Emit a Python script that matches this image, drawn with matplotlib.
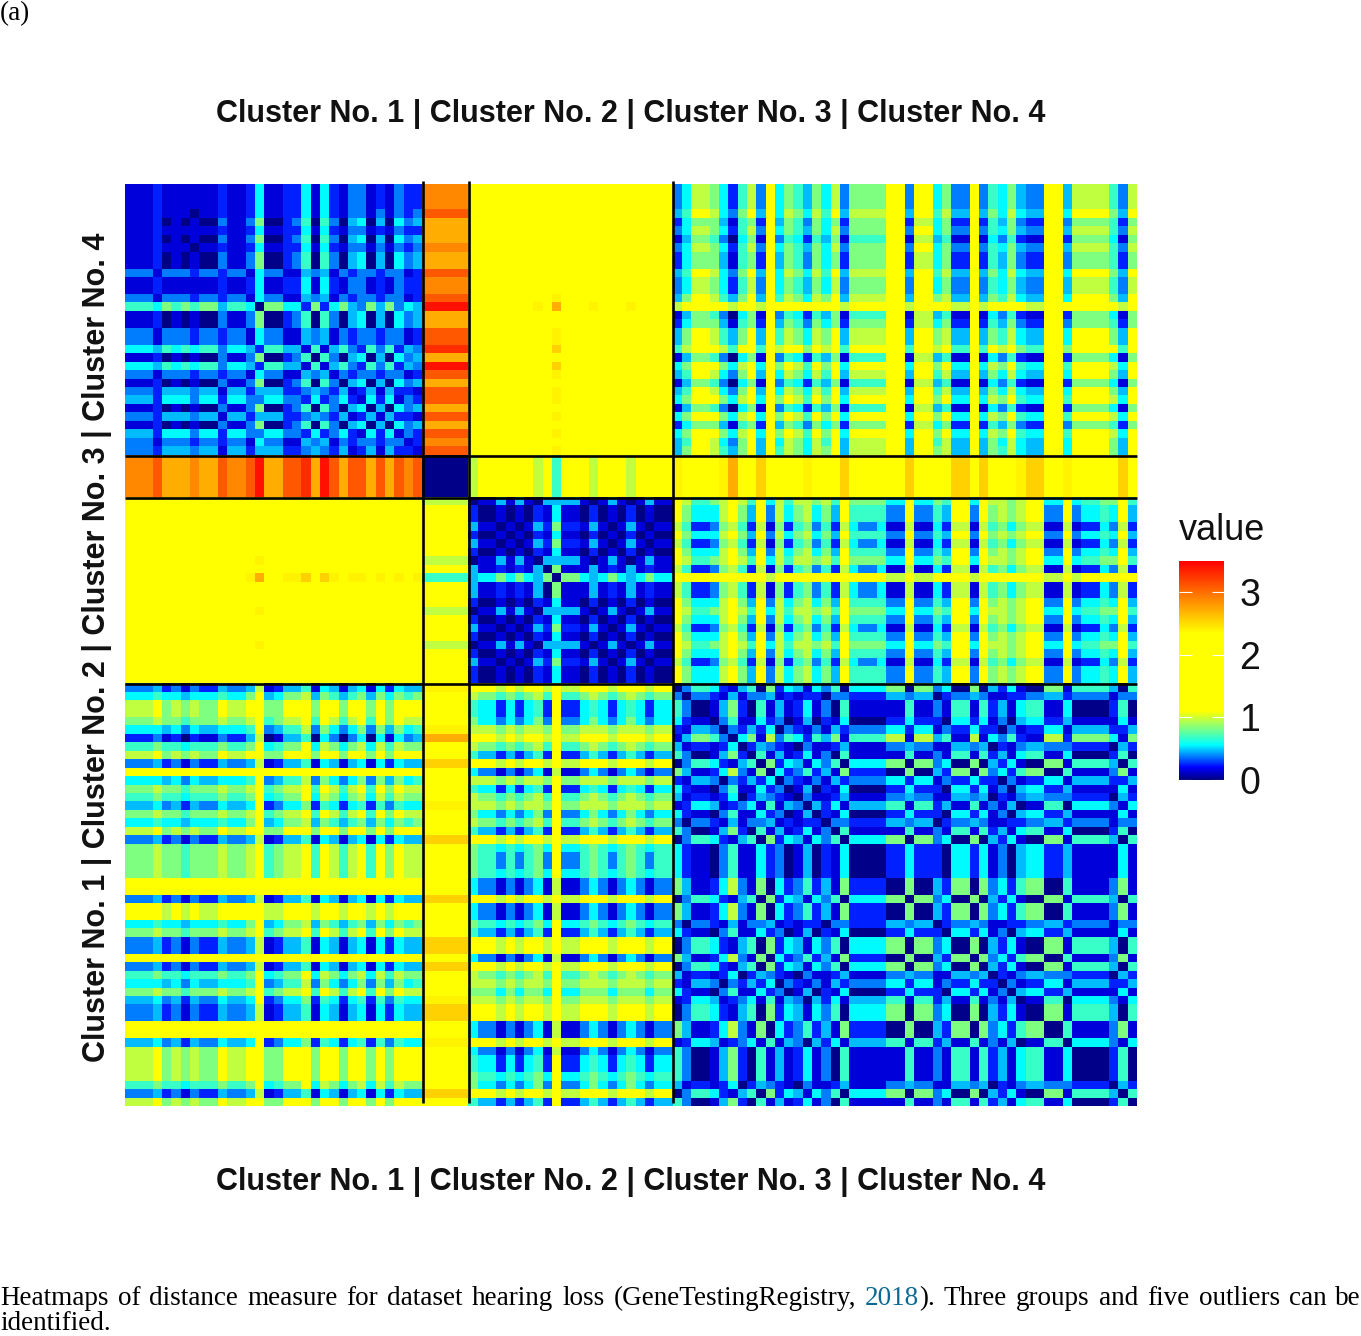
import numpy as np
import matplotlib
matplotlib.use("Agg")
import matplotlib.pyplot as plt
from matplotlib.colors import LinearSegmentedColormap

W, H = 1361, 1336
TITLE = "Cluster No. 1 | Cluster No. 2 | Cluster No. 3 | Cluster No. 4"
LEGEND_TITLE = "value"
LEGEND_TICKS = [0, 1, 2, 3]
VMAX = 3.5
CAPTION_1 = ["Heatmaps", "of", "distance", "measure", "for", "dataset", "hearing", "loss",
             "(GeneTestingRegistry,", "2018", ").", "Three", "groups", "and", "five", "outliers", "can", "be"]
CAPTION_2 = "identified."

# colour-level code -> distance value
LEVEL = {"0": 0.02, "1": 0.15, "2": 0.25, "3": 0.38, "4": 0.47, "5": 0.56, "6": 0.68,
         "7": 0.83, "8": 0.97, "9": 1.3, "a": 2.4, "b": 2.55, "c": 2.72, "d": 2.88,
         "e": 3.1, "f": 3.3, "g": 3.42}

# cluster sizes 32, 5, 22, 50
C11_ROWS = [
    "1112010100" "3113700236" "0630450405" "34",
    "1112111111" "2112511225" "1521331213" "22",
    "1112111011" "2112511225" "1521331313" "23",
    "3331333233" "2331533114" "3413233233" "12",
    "3332444344" "1442444223" "4324124142" "21",
    "4442555355" "2553355332" "5235215251" "32",
    "5554656566" "3554266441" "6146326362" "43",
    "6665767677" "4665077552" "7257437473" "54",
]
C11_KIND = [1,1,1,2,0,1,0,2,0,0,3,1,1,3,7,0,0,3,3,6,0,6,3,0,4,5,0,4,0,5,3,4]

STRIP_12 = "dddecccdccedde" + "gcceefcgeceececede"

C13_ROWS = ["9999999999999999999999", "999999999a999999999999",
            "9999999a9c999a999a9999", "999999999b999999999999"]
C13_KIND = [0,0,0,0,0,0,0,0,0,0,0,0,0,1,2,0,0,1,1,3,0,3,1,0,1,1,0,1,0,1,0,1]

C14_ROWS = {
    0: "14776" "30571" "93652" "64716" "66699" "18846" "11915" "36211" "99277" "77517",
    1: "25777" "41672" "94763" "75727" "77799" "28857" "22926" "47322" "99377" "77627",
    2: "35887" "52683" "95764" "75837" "77799" "39957" "33936" "57433" "99488" "88638",
    3: "46998" "53794" "95875" "86948" "88899" "49968" "44947" "58544" "99599" "99749",
    4: "47998" "64794" "96875" "87948" "88899" "49978" "44947" "68544" "99599" "99749",
    5: "57999" "75895" "97986" "97959" "99999" "59979" "55958" "79655" "99699" "99859",
    6: "68999" "86996" "98997" "98969" "99999" "69989" "66969" "89766" "99799" "99969",
    8: "89999" "98998" "99999" "99989" "99999" "89999" "88989" "99988" "99999" "99989",
}
C14_KIND = [2,2,2,3,1,2,0,2,1,1,3,2,2,4,8,0,1,4,4,6,0,5,3,0,3,5,0,5,1,5,3,4]

STRIP_23 = "8999999896999899989999"
STRIP_24 = "a9999" "ac99b" "9999a" "999b9" "99999" "b9999" "bb9b9" "99abb" "99a99" "999b9"

C33_ROWS = {
    "P": "0114141044441014101411",
    "R": "2001010215110201020100",
    "Q": "4110101427221410141011",
    "W": "4112121407111412141211",
    "O": "4557575470775457545755",
}
C33_KIND = "PRRQRQRPWOWWRPRQRPRQRR"

C34_ROWS = {
    0: "86223" "78628" "17267" "36285" "33511" "81152" "88186" "75788" "11812" "25382",
    2: "97555" "89749" "38578" "57496" "66633" "93364" "99397" "87899" "33935" "56594",
    4: "98667" "89869" "58688" "78697" "77755" "95576" "99598" "87899" "55956" "67796",
    7: "99999" "99999" "89999" "99999" "99988" "98899" "99899" "99999" "88989" "99999",
}
C34_KIND = [4,2,2,0,2,0,2,4,0,7,0,0,2,4,2,0,2,4,2,0,2,2]

C44_ROWS = [
    "14776305718365264716666881884611815362118827777517",
    "03665214607254153605555770773500704251007716666406",
    "12554123516143042514444661662411613140116605555315",
    "21443032425032131423333552551322522031225514444224",
    "30332141334121220332222443440233431122334423333133",
    "41221250243210311241111334331144340213443332222042",
    "52110361152301402150000225222055251304552241111151",
    "63001472061412513061111116113166162415661150000260",
    "74112583170523624172222007004277073526770061111371",
]
C44_KIND = [1,4,7,7,6,3,0,5,7,1,8,3,6,5,2,6,4,7,1,6,6,6,6,8,8,
            1,8,8,4,6,1,1,8,1,5,3,6,2,1,1,8,8,2,7,7,7,7,5,1,7]

BOUNDS = [32, 37, 59]


def decode(rows):
    return np.array([[LEVEL[c] for c in r] for r in rows])


D11 = decode([C11_ROWS[k] for k in C11_KIND])
D12 = decode([STRIP_12] * 5).T
D13 = decode([C13_ROWS[k] for k in C13_KIND])
D14 = decode([C14_ROWS[k] for k in C14_KIND])
D22 = decode(["00000"] * 5)
D23 = decode([STRIP_23] * 5)
D24 = decode([STRIP_24] * 5)
D33 = decode([C33_ROWS[k] for k in C33_KIND])
D34 = decode([C34_ROWS[k] for k in C34_KIND])
D44 = decode([C44_ROWS[k] for k in C44_KIND])
M = np.block([[D11, D12, D13, D14],
              [D12.T, D22, D23, D24],
              [D13.T, D23.T, D33, D34],
              [D14.T, D24.T, D34.T, D44]])

stops = [(0, "#000080"), (0.2 / VMAX, "#0000FF"), (0.56 / VMAX, "#00FFFF"),
         (1.1 / VMAX, "#FFFF00"), (2.35 / VMAX, "#FFFF00"), (1, "#FF0000")]
cmap = LinearSegmentedColormap.from_list("dist", stops, N=512)

plt.rcParams["font.family"] = ["Liberation Sans", "DejaVu Sans"]
fig = plt.figure(figsize=(W / 100, H / 100), dpi=100, facecolor="white")


def fx(x):
    return x / W


def fy(y):
    return 1 - y / H


def rect(x0, y0, x1, y1):
    return [fx(x0), fy(y1), (x1 - x0) / W, (y1 - y0) / H]


ax = fig.add_axes(rect(125, 184, 1136.5, 1106))
n = M.shape[0]
im = ax.imshow(M, cmap=cmap, vmin=0, vmax=VMAX, extent=[0, n, n, 0], aspect="auto",
               interpolation="nearest")
ax.axis("off")
for b in BOUNDS:
    ax.plot([b + 0.1, b + 0.1], [-0.4, n - 0.35], color="black", lw=1.9, clip_on=False,
            solid_capstyle="butt")
    ax.plot([0, n], [b + 0.15, b + 0.15], color="black", lw=1.9, clip_on=False,
            solid_capstyle="butt")
ax.set_xlim(0, n)
ax.set_ylim(n, 0)

cax = fig.add_axes(rect(1179, 561, 1224, 780))
cb = fig.colorbar(im, cax=cax, ticks=LEGEND_TICKS)
cb.outline.set_visible(False)
cax.tick_params(axis="y", left=True, right=True, labelleft=False, labelright=True,
                direction="in", color="#FFFFFF", length=9, width=0.8, labelsize=27,
                labelcolor="#111111", pad=11)

TITLE_SIZE = 22
fig.text(fx(631), fy(114), TITLE, ha="center", va="center", fontsize=TITLE_SIZE,
         fontweight="bold", color="#111111")
fig.text(fx(631), fy(1182), TITLE, ha="center", va="center", fontsize=TITLE_SIZE,
         fontweight="bold", color="#111111")
fig.text(fx(97), fy(647), TITLE, ha="center", va="center", rotation=90, fontsize=TITLE_SIZE,
         fontweight="bold", color="#111111")
fig.text(fx(1179), fy(530), LEGEND_TITLE, ha="left", va="center", fontsize=26, color="#111111")

SERIF = ["Liberation Serif", "DejaVu Serif"]
CAP = 19.5
fig.text(fx(0), fy(20), "(a)", ha="left", va="baseline", fontsize=CAP, family=SERIF, color="black")
fig.text(fx(0), fy(1330), CAPTION_2, ha="left", va="baseline", fontsize=CAP, family=SERIF, color="black")

renderer = fig.canvas.get_renderer()
widths = []
for t in CAPTION_1:
    tx = fig.text(0, 0, t, fontsize=CAP, family=SERIF)
    widths.append(tx.get_window_extent(renderer).width)
    tx.remove()
gap = (W - sum(widths)) / (len(CAPTION_1) - 2)
x = 0.0
for t, wd in zip(CAPTION_1, widths):
    if t == ").":
        x -= gap
    fig.text(fx(x), fy(1305), t, ha="left", va="baseline", fontsize=CAP, family=SERIF,
             color="#0B6A94" if t == "2018" else "black")
    x += wd + gap

fig.savefig("out.png", dpi=100, facecolor="white")
